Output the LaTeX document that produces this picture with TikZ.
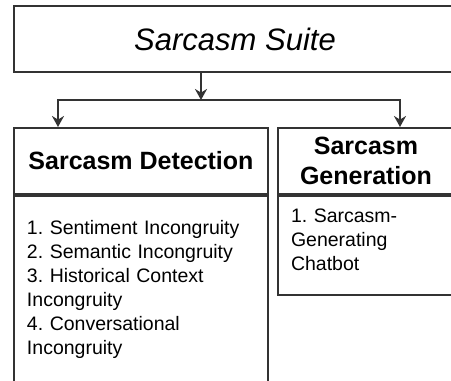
\documentclass[tikz,border=0pt]{standalone}
\usepackage{fontspec}
\setmainfont{Liberation Sans}
\usetikzlibrary{arrows.meta,positioning}
\frenchspacing

\begin{document}
\begin{tikzpicture}[x=1pt,y=-1pt,line width=2pt,>={Stealth[length=11pt,width=12pt]}]
    \tikzset{box style/.style={draw=black!80,rectangle,inner sep=0pt},
             head style/.style={box style,align=center,minimum height=66pt,font=\fontsize{25}{30}\selectfont\bfseries},
             item style/.style={box style,align=left,font=\fontsize{19.5}{24}\selectfont}}
    \useasboundingbox (0,0) rectangle (451,381);
    \clip (0,0) rectangle (451,381);
    \node[box style,minimum width=442pt,minimum height=66pt,font=\fontsize{31}{36}\selectfont\itshape] (suite) at (235,39) {Sarcasm Suite};
    \node[head style,minimum width=254pt] (dethead) at (141,161) {Sarcasm Detection};
    \node[item style,minimum width=254pt,minimum height=186pt,text width=228pt,below=0pt of dethead] (detbody) {1. Sentiment Incongruity\\2. Semantic Incongruity\\3. Historical Context\\Incongruity\\4. Conversational\\Incongruity};
    \node[head style,minimum width=176pt] (genhead) at (366,161) {Sarcasm\\Generation};
    \node[item style,minimum width=176pt,minimum height=99pt,text width=150pt,text depth=59pt,below=0pt of genhead] (genbody) {1. Sarcasm-\\Generating\\Chatbot};
    \coordinate (split) at (201,100);
    \coordinate (lfork) at (58,100);
    \coordinate (rfork) at (400,100);
    \draw[->,draw=black!80] (suite.south -| split) -- (split);
    \draw[<->,draw=black!80] (lfork |- dethead.north) -- (lfork) -- (rfork) -- (rfork |- genhead.north);
\end{tikzpicture}
\end{document}
